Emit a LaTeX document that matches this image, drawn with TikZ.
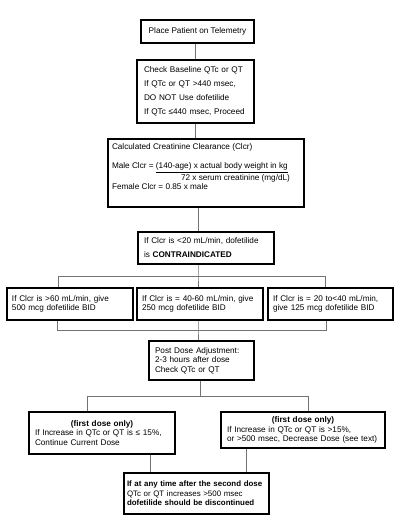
\documentclass[tikz,border=0pt]{standalone}
\usepackage{fontspec}
\setmainfont{Liberation Sans}
\begin{document}
\begin{tikzpicture}[x=1pt,y=-1pt,
  box/.style={draw=black,line width=1.4pt,fill=white,inner xsep=6pt,inner ysep=2pt,align=left,anchor=center,font=\fontsize{8.2}{9.5}\selectfont},
  wide/.style={font=\fontsize{8.2}{14}\selectfont},
  link/.style={draw=black!55,line width=0.8pt}]
\useasboundingbox (0,0) rectangle (400,521);
\fill[white] (0,0) rectangle (400,521);

\node[box,align=center,minimum width=113pt,minimum height=23pt] (b1) at (197.5,31.5) {Place Patient on Telemetry};
\node[box,wide,text width=103pt,inner xsep=7pt,minimum height=63pt] (b2) at (195.5,91.5)
  {Check Baseline QTc or QT\\ If QTc or QT >440 msec,\\ DO NOT Use dofetilide\\ If QTc ≤440 msec, Proceed};
\node[box,inner xsep=4pt,inner ysep=4pt] (b3) at (206,173)
  {\parbox[c][60pt][t]{188pt}{\raggedright\strut Calculated Creatinine Clearance (Clcr)\\[9.5pt]
   Male Clcr = \underline{(140-age) x actual body weight in kg}\\[1pt]
   \hspace*{69pt}72 x serum creatinine (mg/dL)\\
   Female Clcr = 0.85 x male}};
\node[box,wide,text width=124pt,minimum height=32pt] (b4) at (206,248)
  {If Clcr is <20 mL/min, dofetilide\\ is \textbf{CONTRAINDICATED}};
\node[box,text width=116pt,inner xsep=5pt,minimum height=32pt] (bA) at (70,304)
  {If Clcr is >60 mL/min, give\\ 500 mcg dofetilide BID};
\node[box,text width=116pt,inner xsep=5pt,minimum height=32pt] (bB) at (200,304)
  {If Clcr is = 40-60 mL/min, give\\ 250 mcg dofetilide BID};
\node[box,text width=115pt,inner xsep=5pt,minimum height=32pt] (bC) at (330.5,304)
  {If Clcr is = 20 to<40 mL/min,\\ give 125 mcg dofetilide BID};
\node[box,text width=93pt,minimum height=39pt] (b5) at (201.5,360.5)
  {Post Dose Adjustment:\\ 2-3 hours after dose\\ Check QTc or QT};
\node[box,text width=134pt,minimum height=42pt] (bL) at (102,433)
  {\makebox[134pt]{\textbf{(first dose only)}}\\ If Increase in QTc or QT is ≤ 15\%,\\ Continue Current Dose};
\node[box,text width=152pt,minimum height=36pt] (bR) at (303,430)
  {\makebox[152pt]{\textbf{(first dose only)}}\\ If Increase in QTc or QT is >15\%,\\ or >500 msec, Decrease Dose (see text)};
\node[box,text width=139pt,inner xsep=3pt,minimum height=41pt,font=\fontsize{7.9}{9.5}\selectfont] (bE) at (196.5,493.5)
  {\mbox{\textbf{If at any time after the second dose}}\\ QTc or QT increases >500 msec\\ \mbox{\textbf{dofetilide should be discontinued}}};

\coordinate (s1) at (198,276);
\coordinate (s2) at (198,330);
\coordinate (s3) at (200,396);
\coordinate (aL) at (58,276);
\coordinate (aR) at (325,276);
\coordinate (dL) at (57,330);
\coordinate (dR) at (326,330);
\coordinate (eL) at (87,396);
\coordinate (eR) at (308,396);
\coordinate (fL) at (150,460);
\coordinate (fR) at (246,460);

\draw[link] (b2.north) -- (b2.north |- b1.south);
\draw[link] (b2.south) -- (b2.south |- b3.north);
\draw[link] (b3.south -| s1) -- (b4.north -| s1);
\draw[link] (b4.south -| s1) -- (s1) -- (s1 |- bB.north);
\draw[link] (aL |- bA.north) -- (aL) -- (aR) -- (aR |- bC.north);
\draw[link] (dL |- bA.south) -- (dL) -- (dR) -- (dR |- bC.south);
\draw[link] (s2 |- bB.south) -- (s2) -- (s2 |- b5.north);
\draw[link] (b5.south -| s3) -- (s3);
\draw[link] (eL |- bL.north) -- (eL) -- (eR) -- (eR |- bR.north);
\draw[link] (bL.south -| fL) -- (bE.north -| fL);
\draw[link] (bR.south -| fR) -- (bE.north -| fR);
\end{tikzpicture}
\end{document}
